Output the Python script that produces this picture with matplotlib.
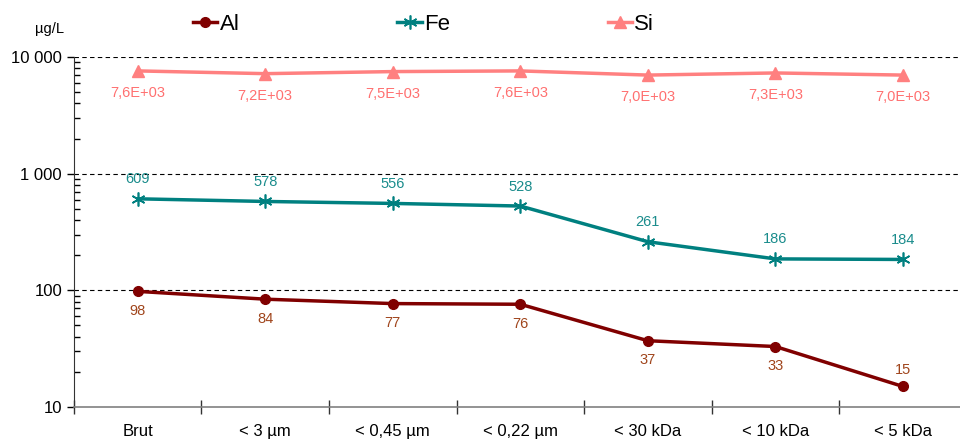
import matplotlib.pyplot as plt
from matplotlib.ticker import FixedLocator, NullFormatter, LogLocator

plt.rcParams['font.family'] = ['Liberation Sans', 'DejaVu Sans']

categories = ["Brut", "< 3 µm", "< 0,45 µm", "< 0,22 µm", "< 30 kDa", "< 10 kDa", "< 5 kDa"]
al = [98, 84, 77, 76, 37, 33, 15]
fe = [609, 578, 556, 528, 261, 186, 184]
si = [7600, 7200, 7500, 7600, 7000, 7300, 7000]

x = list(range(len(categories)))

fig = plt.figure(figsize=(9.6, 4.44), dpi=100)
ax = fig.add_axes([0.077, 0.0833, 0.93, 0.7883])

l_al, = ax.plot(x, al, color='#800000', lw=2.5, marker='o', ms=7, label='Al', zorder=3)
l_fe, = ax.plot(x, fe, color='#008080', lw=2.5, marker=(6, 2, 0), ms=10, mew=1.2, label='Fe', zorder=3)
l_si, = ax.plot(x, si, color='#ff8080', lw=2.5, marker='^', ms=8, label='Si', zorder=3)

for i in x:
    # last Al label sits above its point (too close to the axis)
    off = -14 if i < len(x) - 1 else 12
    ax.annotate(str(al[i]), (i, al[i]), xytext=(0, off), textcoords='offset points',
                ha='center', va='center', fontsize=10.5, color='#a0451c')
    ax.annotate(str(fe[i]), (i, fe[i]), xytext=(0, 14), textcoords='offset points',
                ha='center', va='center', fontsize=10.5, color='#1a8c8c')
    ax.annotate(f"{si[i]:.1E}".replace('.', ','), (i, si[i]), xytext=(0, -16),
                textcoords='offset points', ha='center', va='center', fontsize=10.5, color='#ff7070')

ax.set_yscale('log')
ax.set_ylim(10, 10000)
ax.set_xlim(-0.5, 6.45)
ax.yaxis.set_major_locator(FixedLocator([10, 100, 1000, 10000]))
ax.set_yticklabels(["10", "100", "1 000", "10 000"], fontsize=12)
ax.yaxis.set_minor_locator(LogLocator(base=10, subs=range(2, 10)))
ax.yaxis.set_minor_formatter(NullFormatter())
ax.tick_params(axis='y', which='major', direction='out', length=5, width=1)
ax.tick_params(axis='y', which='minor', direction='in', length=4, width=1)

ax.set_xticks(x)
ax.set_xticklabels(categories, fontsize=12)
ax.set_xticks([i - 0.5 for i in range(len(categories) + 1)], minor=True)
ax.tick_params(axis='x', which='major', length=0, pad=12)
ax.tick_params(axis='x', which='minor', direction='inout', length=10, width=1, color='#333333')

for y in [100, 1000, 10000]:
    ax.axhline(y, color='black', lw=0.8, ls=(0, (4, 3)), zorder=1)

ax.spines['top'].set_visible(False)
ax.spines['right'].set_visible(False)
ax.spines['bottom'].set_color('#808080')
ax.spines['bottom'].set_linewidth(1.2)
ax.spines['left'].set_color('#333333')

fig.text(0.052, 0.935, "µg/L", fontsize=10.5, ha='center', va='center')

fig.legend(handles=[l_al, l_fe, l_si], loc='center left', bbox_to_anchor=(0.201, 0.945),
           ncol=3, frameon=False, fontsize=16, handlelength=1.1, handletextpad=0.1,
           columnspacing=7.1, borderpad=0, borderaxespad=0)

fig.savefig('out.png', dpi=100)
